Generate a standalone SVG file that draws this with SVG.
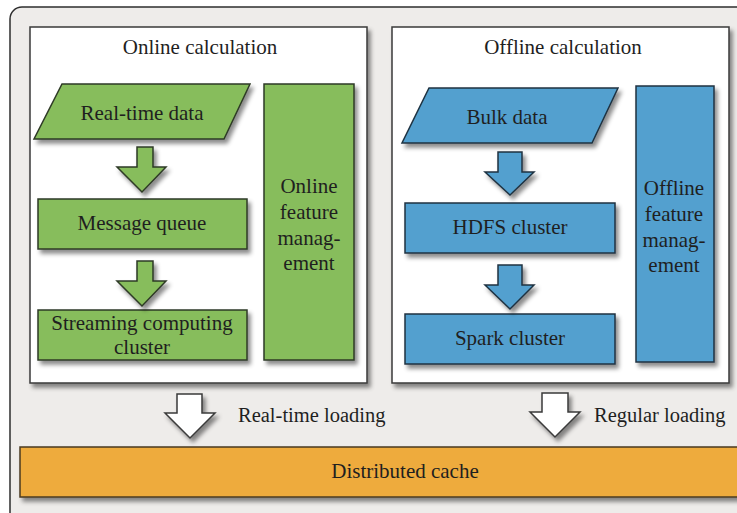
<svg xmlns="http://www.w3.org/2000/svg" width="737" height="513" viewBox="0 0 737 513">
  <defs>
    <filter id="shadow" x="-20%" y="-20%" width="150%" height="150%">
      <feDropShadow dx="3" dy="4" stdDeviation="2" flood-color="#000" flood-opacity="0.45"/>
    </filter>
    <style>
      .lbl { font-family: "Liberation Serif", "Times New Roman", serif; font-size: 21px; fill: #1f1f1f; text-anchor: middle; }
      .side { font-family: "Liberation Serif", "Times New Roman", serif; font-size: 20.5px; fill: #1f1f1f; text-anchor: start; }
      .panel { fill: #ffffff; stroke: #3a3a3a; stroke-width: 1.5; }
      .green { fill: #87bd5b; stroke: #2e3a26; stroke-width: 1.5; }
      .blue { fill: #53a0cf; stroke: #1f3342; stroke-width: 1.5; }
      .orange { fill: #eeab3c; stroke: #4a3a20; stroke-width: 1.5; }
      .white { fill: #ffffff; stroke: #3a3a3a; stroke-width: 1.5; }
    </style>
  </defs>

  <!-- page background and outer frame -->
  <rect x="0" y="0" width="737" height="513" fill="#ffffff"/>
  <rect x="10" y="7" width="800" height="600" rx="12" fill="#eeecea" stroke="#2e2e2e" stroke-width="1.5"/>

  <!-- online panel -->
  <g id="online-panel">
    <rect class="panel" x="30" y="27" width="337" height="356" filter="url(#shadow)"/>
    <text class="lbl" x="200" y="54">Online calculation</text>
  </g>

  <!-- offline panel -->
  <g id="offline-panel">
    <rect class="panel" x="392" y="27" width="337" height="356" filter="url(#shadow)"/>
    <text class="lbl" x="563" y="54">Offline calculation</text>
  </g>

  <g id="realtime-data">
    <polygon class="green" points="62,84 250,84 224,139 34,139" filter="url(#shadow)"/>
    <text class="lbl" x="142" y="120">Real-time data</text>
  </g>

  <g id="message-queue">
    <rect class="green" x="38" y="199" width="209" height="50" filter="url(#shadow)"/>
    <text class="lbl" x="142" y="230">Message queue</text>
  </g>

  <g id="streaming-cluster">
    <rect class="green" x="38" y="310" width="209" height="50" filter="url(#shadow)"/>
    <text class="lbl" x="142" y="330">Streaming computing</text>
    <text class="lbl" x="142" y="354">cluster</text>
  </g>

  <g id="online-feature-management">
    <rect class="green" x="264" y="84" width="90" height="276" filter="url(#shadow)"/>
    <text class="lbl" x="309" y="193">Online</text>
    <text class="lbl" x="309" y="219">feature</text>
    <text class="lbl" x="309" y="245">manag-</text>
    <text class="lbl" x="309" y="270">ement</text>
  </g>

  <g id="bulk-data">
    <polygon class="blue" points="429,88 618,88 592,143 402,143" filter="url(#shadow)"/>
    <text class="lbl" x="507" y="124">Bulk data</text>
  </g>

  <g id="hdfs-cluster">
    <rect class="blue" x="405" y="203" width="210" height="50" filter="url(#shadow)"/>
    <text class="lbl" x="510" y="234">HDFS cluster</text>
  </g>

  <g id="spark-cluster">
    <rect class="blue" x="405" y="314" width="210" height="50" filter="url(#shadow)"/>
    <text class="lbl" x="510" y="345">Spark cluster</text>
  </g>

  <g id="offline-feature-management">
    <rect class="blue" x="636" y="86" width="78" height="276" filter="url(#shadow)"/>
    <text class="lbl" x="674" y="195">Offline</text>
    <text class="lbl" x="674" y="221">feature</text>
    <text class="lbl" x="674" y="247">manag-</text>
    <text class="lbl" x="674" y="272">ement</text>
  </g>

  <g id="distributed-cache">
    <rect class="orange" x="20" y="447" width="740" height="50" filter="url(#shadow)"/>
    <text class="lbl" x="405" y="478">Distributed cache</text>
  </g>

  <!-- block arrows between stages -->
  <g id="connectors">
    <polygon class="green" points="137,147 153,147 153,167 166,167 142,192 117,167 137,167" filter="url(#shadow)"/>
    <polygon class="green" points="137,261 153,261 153,281 166,281 142,306 117,281 137,281" filter="url(#shadow)"/>
    <polygon class="blue" points="498,152 522,152 522,172 534,172 510,195 485,172 498,172" filter="url(#shadow)"/>
    <polygon class="blue" points="498,265 522,265 522,285 534,285 510,309 485,285 498,285" filter="url(#shadow)"/>
    <polygon class="white" points="177,394 202,394 202,413 215,413 190,438 165,413 177,413" filter="url(#shadow)"/>
    <polygon class="white" points="542,393 568,393 568,412 580,412 555,437 530,412 542,412" filter="url(#shadow)"/>
    <text class="side" x="238" y="422">Real-time loading</text>
    <text class="side" x="594" y="422">Regular loading</text>
  </g>
</svg>
